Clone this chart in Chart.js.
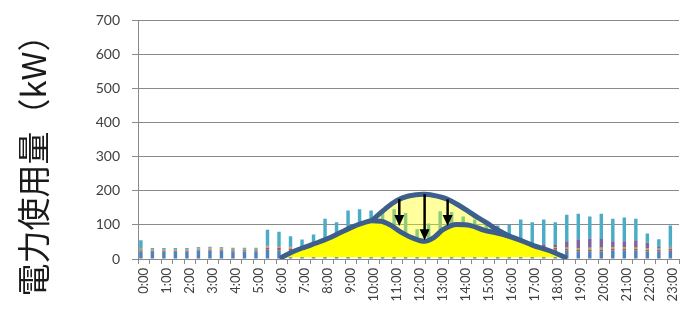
<!DOCTYPE html>
<html>
<head>
<meta charset="utf-8">
<script src="https://cdn.jsdelivr.net/npm/chart.js@4"></script>
<style>
  html, body { margin: 0; padding: 0; background: #fff; }
  #wrap { width: 680px; height: 313px; }
</style>
</head>
<body>
<div id="wrap"><canvas id="powerChart"></canvas></div>
<script>
// 30分ごとの時刻 (0:00〜23:00)
const timeLabels = ['0:00','0:30','1:00','1:30','2:00','2:30','3:00','3:30','4:00','4:30','5:00','5:30',
  '6:00','6:30','7:00','7:30','8:00','8:30','9:00','9:30','10:00','10:30','11:00','11:30',
  '12:00','12:30','13:00','13:30','14:00','14:30','15:00','15:30','16:00','16:30','17:00','17:30',
  '18:00','18:30','19:00','19:30','20:00','20:30','21:00','21:30','22:00','22:30','23:00'];

// 積み上げ棒 (kW)
const loadA = [23,21,21,21,21,25,25,25,22,22,22,27,26,26,26,26,27,27,27,27,27,27,27,27,27,27,27,27,27,27,27,27,27,27,27,27,27,24,23,23,23,26,26,24,22,23,24];
const loadB = [3,4,4,4,4,3,3,3,4,4,4,6,6,5,5,5,5,5,5,5,5,5,5,5,5,5,5,5,5,5,5,5,5,5,5,5,5,5,5,5,5,5,5,5,5,4,5];
const loadC = [3,3,3,3,3,3,3,3,3,3,3,4,4,3,3,3,4,4,4,4,4,4,4,4,4,4,4,4,4,4,4,4,4,3,3,3,3,4,4,5,5,4,4,4,5,3,4];
const loadD = [1,1,1,1,1,2,2,2,1,1,1,2,2,2,2,2,2,2,2,2,2,2,2,2,2,2,2,2,2,2,2,2,2,5,5,8,8,19,26,27,26,17,17,22,16,5,3];
const loadE = [25,3,3,3,3,2,3,2,3,3,3,47,42,31,21,36,80,70,104,108,104,102,108,97,49,66,102,100,87,78,62,60,62,76,68,73,65,78,75,65,74,66,70,63,27,23,62];

// 削減後の曲線 (時刻[h], kW)
const reducedTimes = [6.0,6.5,7.0,7.5,8.0,8.5,9.0,9.5,9.9,10.3,10.7,11.1,11.6,12.2,12.6,13.0,13.6,14.2,14.8,15.3,15.9,16.4,16.9,17.6,18.3];
const reducedKw    = [5,22,35,47,60,76,92,105,112,111,100,82,64,52,63,86,101,98,84,77,66,54,40,25,5];

// ピーク曲線
const peakTimes = [9.9,10.4,11.0,11.5,12.2,12.9,13.2,13.7,14.1,14.5,14.9,15.3,15.9];
const peakKw    = [112,142,172,185,190,182,175,157,140,122,106,88,66];

// 矢印 (時刻, 始点kW, 終点kW)
const arrowTimes = [11.1, 12.2, 13.2];
const arrowFrom  = [176, 190, 175];
const arrowTo    = [97, 55, 97];

const yTitleText = '電力使用量（kW）';

const gridGray = '#8a8a8a';
const tickColor = '#404040';

const toPoints = (xs, ys) => xs.map((x, i) => ({ x: x, y: ys[i] }));

const arrowPlugin = {
  id: 'arrows',
  afterDatasetsDraw(chart) {
    const ctx = chart.ctx;
    const xs = chart.scales.x2;
    const ys = chart.scales.y;
    ctx.save();
    ctx.strokeStyle = '#000';
    ctx.fillStyle = '#000';
    ctx.lineWidth = 2.5;
    arrowTimes.forEach((t, i) => {
      const x = xs.getPixelForValue(t);
      const y0 = ys.getPixelForValue(arrowFrom[i]);
      const y1 = ys.getPixelForValue(arrowTo[i]);
      const head = 11;
      ctx.beginPath();
      ctx.moveTo(x, y0);
      ctx.lineTo(x, y1 - head + 1);
      ctx.stroke();
      ctx.beginPath();
      ctx.moveTo(x - 5, y1 - head);
      ctx.lineTo(x + 5, y1 - head);
      ctx.lineTo(x, y1);
      ctx.closePath();
      ctx.fill();
    });
    ctx.restore();
  }
};

const yTitlePlugin = {
  id: 'yTitle',
  afterDraw(chart) {
    const ctx = chart.ctx;
    ctx.save();
    ctx.translate(33, chart.height / 2 + 1);
    ctx.rotate(-Math.PI / 2);
    ctx.font = '33px "Noto Sans CJK JP"';
    ctx.fillStyle = '#1a1a1a';
    ctx.textAlign = 'center';
    ctx.textBaseline = 'middle';
    ctx.fillText(yTitleText, 0, 0);
    ctx.restore();
  }
};

const barSet = (label, data, color) => ({
  label: label,
  data: data,
  backgroundColor: color,
  barPercentage: 0.6,
  categoryPercentage: 1,
  order: 3
});

new Chart(document.getElementById('powerChart'), {
  type: 'bar',
  data: {
    labels: timeLabels,
    datasets: [
      barSet('負荷A', loadA, '#4F81BD'),
      barSet('負荷B', loadB, '#C0504D'),
      barSet('負荷C', loadC, '#9BBB59'),
      barSet('負荷D', loadD, '#8064A2'),
      barSet('負荷E', loadE, '#4BACC6'),
      {
        type: 'line',
        label: 'ピーク',
        data: toPoints(peakTimes, peakKw),
        xAxisID: 'x2',
        stack: 'peak',
        borderColor: '#3C5F8C',
        borderWidth: 5,
        borderCapStyle: 'round',
        borderJoinStyle: 'round',
        backgroundColor: 'rgba(255,255,0,0.38)',
        fill: { value: 5 },
        pointRadius: 0,
        tension: 0.4,
        order: 2
      },
      {
        type: 'line',
        label: '削減後',
        data: toPoints(reducedTimes, reducedKw),
        xAxisID: 'x2',
        stack: 'reduced',
        borderColor: '#3C5F8C',
        borderWidth: 5,
        borderCapStyle: 'round',
        borderJoinStyle: 'round',
        backgroundColor: '#FFFF00',
        fill: { value: 5 },
        pointRadius: 0,
        cubicInterpolationMode: 'monotone',
        order: 1
      }
    ]
  },
  options: {
    responsive: true,
    maintainAspectRatio: false,
    animation: false,
    devicePixelRatio: 1,
    layout: { padding: { top: 5, right: 1, left: 0, bottom: 0 } },
    plugins: {
      legend: { display: false },
      tooltip: { enabled: false }
    },
    scales: {
      x: {
        stacked: true,
        grid: { drawOnChartArea: false, color: gridGray, tickLength: 5 },
        border: { color: gridGray },
        ticks: {
          autoSkip: false,
          minRotation: 90,
          maxRotation: 90,
          padding: 4,
          color: tickColor,
          font: { family: 'Lato', size: 13 },
          callback: function (v) {
            const s = this.getLabelForValue(v);
            return s.endsWith(':00') ? s : '';
          }
        },
        afterFit: (s) => {
          s.height = 54;
          s.paddingLeft = 0;
          s.paddingRight = 0;
        }
      },
      x2: {
        type: 'linear',
        display: false,
        offset: false,
        grid: { offset: false },
        min: -0.25,
        max: 23.25
      },
      y: {
        stacked: true,
        min: 0,
        max: 700,
        grid: { color: gridGray, tickLength: 6 },
        border: { color: gridGray },
        ticks: {
          stepSize: 100,
          padding: 12,
          color: tickColor,
          font: { family: 'Lato', size: 14 }
        },
        afterFit: (s) => { s.width = 138; }
      }
    }
  },
  plugins: [arrowPlugin, yTitlePlugin]
});
</script>
</body>
</html>
